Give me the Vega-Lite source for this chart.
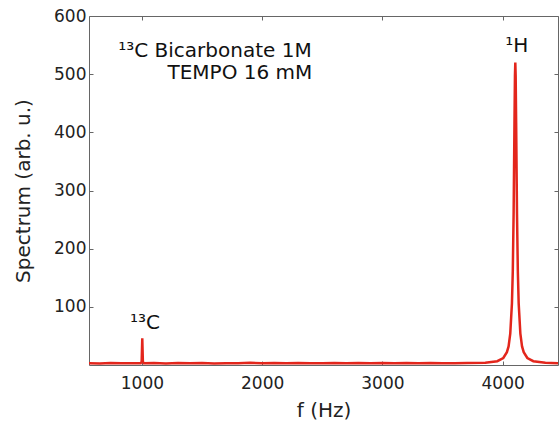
{
  "$schema": "https://vega.github.io/schema/vega-lite/v6.json",
  "width": 469,
  "height": 349,
  "autosize": "none",
  "padding": {"left": 89, "top": 16, "right": 2, "bottom": 58},
  "background": "white",
  "config": {
    "font": "DejaVu Sans",
    "view": {"stroke": null},
    "axis": {"domainColor": "#666", "tickColor": "#666", "labelColor": "#222", "titleColor": "#222", "grid": false, "labelFontSize": 17, "titleFontSize": 20, "titleFontWeight": "normal"}
  },
  "datasets": {
    "spec": [
      {"f": 560, "s": 3}, {"f": 650, "s": 2.5}, {"f": 740, "s": 3.5}, {"f": 830, "s": 2.8}, {"f": 920, "s": 3.2},
      {"f": 990, "s": 3}, {"f": 998, "s": 6}, {"f": 1003, "s": 46}, {"f": 1008, "s": 6}, {"f": 1016, "s": 3},
      {"f": 1100, "s": 3.4}, {"f": 1200, "s": 2.7}, {"f": 1300, "s": 3.3}, {"f": 1400, "s": 2.9}, {"f": 1500, "s": 3.6},
      {"f": 1600, "s": 2.6}, {"f": 1700, "s": 3.2}, {"f": 1800, "s": 3}, {"f": 1900, "s": 3.8}, {"f": 2000, "s": 2.8},
      {"f": 2100, "s": 3.4}, {"f": 2200, "s": 2.9}, {"f": 2300, "s": 3.5}, {"f": 2400, "s": 3.1}, {"f": 2500, "s": 2.8},
      {"f": 2600, "s": 3.6}, {"f": 2700, "s": 3}, {"f": 2800, "s": 3.3}, {"f": 2900, "s": 2.9}, {"f": 3000, "s": 3.4},
      {"f": 3100, "s": 3}, {"f": 3200, "s": 3.5}, {"f": 3300, "s": 2.9}, {"f": 3400, "s": 3.3}, {"f": 3500, "s": 3},
      {"f": 3600, "s": 3.2}, {"f": 3705, "s": 3.4}, {"f": 3855, "s": 3.8}, {"f": 3955, "s": 6.5}, {"f": 4005, "s": 12},
      {"f": 4035, "s": 22}, {"f": 4049, "s": 32}, {"f": 4063, "s": 54}, {"f": 4077, "s": 106}, {"f": 4084, "s": 161},
      {"f": 4091, "s": 261}, {"f": 4098, "s": 416}, {"f": 4102, "s": 497}, {"f": 4105, "s": 520}, {"f": 4108, "s": 497},
      {"f": 4112, "s": 416}, {"f": 4119, "s": 261}, {"f": 4126, "s": 161}, {"f": 4133, "s": 106}, {"f": 4147, "s": 54},
      {"f": 4161, "s": 32}, {"f": 4175, "s": 22}, {"f": 4205, "s": 12}, {"f": 4255, "s": 6.5}, {"f": 4355, "s": 3.8},
      {"f": 4460, "s": 3.2}
    ],
    "labels": [
      {"f": 1607, "s": 529, "t": "¹³C Bicarbonate 1M"},
      {"f": 1815, "s": 491, "t": "TEMPO 16 mM"},
      {"f": 4117, "s": 538, "t": "¹H"},
      {"f": 1025, "s": 62, "t": "¹³C"}
    ]
  },
  "layer": [
    {
      "data": {"name": "spec"},
      "mark": {"type": "line", "color": "#e3261c", "strokeWidth": 2.5, "clip": true},
      "encoding": {
        "x": {"field": "f", "type": "quantitative", "scale": {"domain": [560, 4460], "nice": false, "zero": false},
          "axis": {"title": "f (Hz)", "values": [1000, 2000, 3000, 4000], "format": "d", "tickSize": -4, "labelPadding": 14, "titlePadding": 9}},
        "y": {"field": "s", "type": "quantitative", "scale": {"domain": [0, 600], "nice": false},
          "axis": {"title": "Spectrum (arb. u.)", "values": [100, 200, 300, 400, 500, 600], "tickSize": -4, "labelPadding": 7, "titlePadding": 20}}
      }
    },
    {
      "data": {"name": "spec"},
      "mark": {"type": "line", "opacity": 0},
      "encoding": {
        "x": {"field": "f", "type": "quantitative", "axis": {"orient": "top", "title": null, "labels": false, "values": [1000, 2000, 3000, 4000], "tickSize": -4}},
        "y": {"field": "s", "type": "quantitative", "axis": {"orient": "right", "title": null, "labels": false, "values": [100, 200, 300, 400, 500, 600], "tickSize": -4}}
      }
    },
    {
      "data": {"name": "labels"},
      "mark": {"type": "text", "fontSize": 20, "color": "#111", "baseline": "alphabetic", "align": "center"},
      "encoding": {
        "x": {"field": "f", "type": "quantitative", "axis": null},
        "y": {"field": "s", "type": "quantitative", "axis": null},
        "text": {"field": "t"}
      }
    }
  ],
  "resolve": {"axis": {"x": "independent", "y": "independent"}}
}
